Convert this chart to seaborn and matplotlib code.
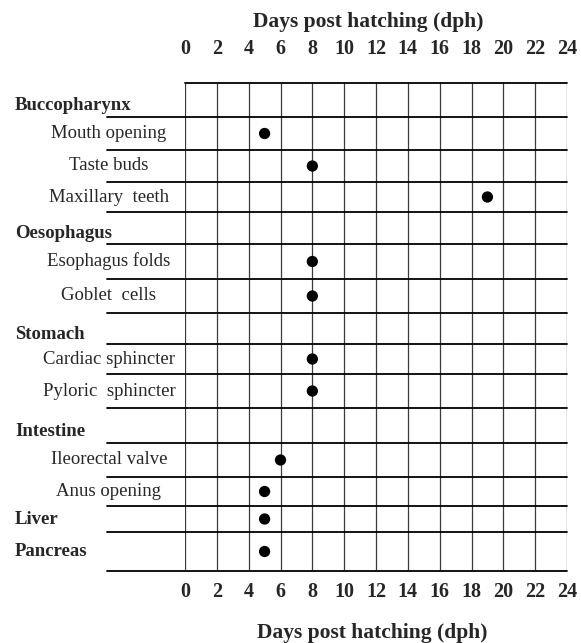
import matplotlib
matplotlib.use('Agg')
import matplotlib.pyplot as plt
import matplotlib.transforms as mtransforms
import numpy as np
import pandas as pd
import seaborn as sns

# organs (bold header rows) and the rows of the table, top to bottom
organs = ["Buccopharynx", "Oesophagus", "Stomach", "Intestine", "Liver", "Pancreas"]
rows = ["Buccopharynx", "Mouth opening", "Taste buds", "Maxillary  teeth",
        "Oesophagus", "Esophagus folds", "Goblet  cells",
        "Stomach", "Cardiac sphincter", "Pyloric  sphincter",
        "Intestine", "Ileorectal valve", "Anus opening",
        "Liver", "Pancreas"]
# day of first appearance (dph), None = header row without a mark
first_dph = [None, 5, 8, 19, None, 8, 8, None, 8, 8, None, 6, 5, 5, 5]
days = list(range(0, 25, 2))

# layout: row heights of the original table (px)
row_h = [34, 33, 32, 30, 32, 35, 34, 31, 30, 34, 35, 34, 29, 26, 39]
edges = np.concatenate([[0], np.cumsum(row_h)])
mid = (edges[:-1] + edges[1:]) / 2

sns.set_style("white")
plt.rcParams['font.family'] = ['Liberation Serif', 'DejaVu Serif']

fig = plt.figure(figsize=(5.81, 6.43), dpi=100)
ax = fig.add_axes([185/581, 1-571/643, (567-185)/581, (571-83)/643])

df = pd.DataFrame({"row": rows, "dph": first_dph, "y": mid}).dropna()
sns.scatterplot(data=df, x="dph", y="y", color="black", s=66, edgecolor="none",
                ax=ax, zorder=3, legend=False)

ax.set_xlim(0, 24)
ax.set_ylim(edges[-1], 0)
for sp in ax.spines.values():
    sp.set_visible(False)

# grid
ax.vlines(days, 0, edges[-1], color="#3a3a3a", lw=0.9)
trans = mtransforms.blended_transform_factory(ax.transAxes, ax.transData)
ax.plot([0, 1], [0, 0], transform=trans, color="black", lw=1.3, clip_on=False)
for e in edges[1:]:
    ax.plot([-0.204, 1], [e, e], transform=trans, color="black", lw=1.3, clip_on=False)

# row labels
for name, y, d in zip(rows, mid, first_dph):
    if name in organs:
        off = 6 if d is None else 0
        ax.text(-0.445, y + off, name, transform=trans, ha="left", va="center",
                fontweight="bold", fontsize=13.5)
    else:
        ax.text(-0.199, y, name, transform=trans, ha="center", va="center",
                fontsize=13.5)

# day ticks top and bottom
ax.set_xticks(days)
ax.set_yticks([])
ax.set(xlabel="", ylabel="")
ax.tick_params(axis="x", length=0, labelsize=14.5, pad=8)
for lbl in ax.get_xticklabels():
    lbl.set_fontweight("bold")

secax = ax.secondary_xaxis("top")
secax.set_xticks(days)
secax.tick_params(length=0, labelsize=14.5, pad=17)
for lbl in secax.get_xticklabels():
    lbl.set_fontweight("bold")
secax.spines["top"].set_visible(False)

fig.text(368/581, 1-22/643, "Days post hatching (dph)", ha="center", va="center",
         fontweight="bold", fontsize=15.5)
fig.text(372/581, 1-633/643, "Days post hatching (dph)", ha="center", va="center",
         fontweight="bold", fontsize=15.5)

plt.savefig("out.png", dpi=100)
